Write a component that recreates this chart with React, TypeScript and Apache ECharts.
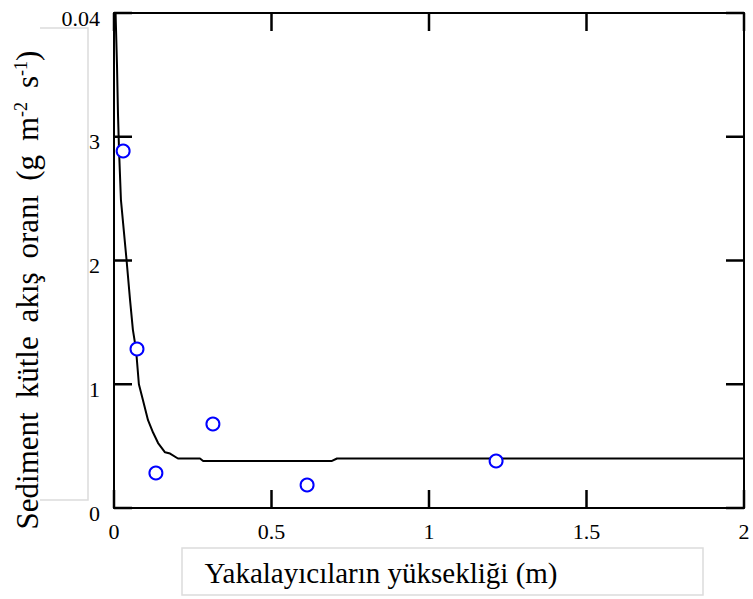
import React, { useEffect, useRef } from "react";
import * as echarts from "echarts";

const measuredX = [0.029, 0.073, 0.133, 0.314, 0.613, 1.213];
const measuredY = [2.885, 1.285, 0.283, 0.679, 0.186, 0.38];

const curveX = [0.005, 0.0095, 0.0127, 0.016, 0.022, 0.04, 0.051, 0.06, 0.07, 0.079, 0.092, 0.108, 0.124, 0.14, 0.162, 0.178, 0.203, 0.273, 0.283, 0.692, 0.708, 2.0];
const curveY = [4.0, 3.58, 3.18, 2.89, 2.49, 2.0, 1.68, 1.44, 1.28, 1.0, 0.87, 0.71, 0.61, 0.525, 0.45, 0.44, 0.4, 0.4, 0.38, 0.38, 0.4, 0.4];

const xTickValues = [0, 0.5, 1, 1.5, 2];
const yTickValues = [0, 1, 2, 3, 4];
const xTicks = ["0", "0.5", "1", "1.5", "2"];
const yTicks = ["0", "1", "2", "3", "0.04"];

const xTitle = "Yakalayıcıların yüksekliği (m)";
const SP = " \u2009";
const yTitle = `Sediment${SP}kütle${SP}akış${SP}oranı${SP}(g${SP}m{sup|-2}${SP}s{sup|-1})`;
const FONT = "'Liberation Serif', 'Times New Roman', serif";
const TICK = 18;

const mkLine = () => ({ show: true, onZero: false, lineStyle: { color: "#000", width: 2 } });

export default function App() {
  const ref = useRef<HTMLDivElement>(null);
  useEffect(() => {
    if (!ref.current) return;
    const chart = echarts.init(ref.current, undefined, { renderer: "svg" });
    const tickStyle = { stroke: "#000", lineWidth: 2.5 };
    chart.setOption({
      animation: false,
      backgroundColor: "#fff",
      grid: { left: 114, top: 13, width: 630, height: 495, containLabel: false },
      xAxis: [
        {
          type: "value", min: 0, max: 2, interval: 0.5, position: "bottom",
          axisLine: mkLine(), axisTick: { show: false }, splitLine: { show: false },
          axisLabel: {
            margin: 12, fontSize: 22, fontFamily: FONT, color: "#000",
            formatter: (v: number) => xTicks[Math.round(v / 0.5)] ?? "",
          },
        },
        {
          type: "value", min: 0, max: 2, interval: 0.5, position: "top",
          axisLine: mkLine(), axisTick: { show: false }, splitLine: { show: false }, axisLabel: { show: false },
        },
      ],
      yAxis: [
        {
          type: "value", min: 0, max: 4, interval: 1, position: "left",
          axisLine: mkLine(), axisTick: { show: false }, splitLine: { show: false },
          axisLabel: {
            margin: 14, color: "#000",
            formatter: (v: number) => `{a|${yTicks[Math.round(v)] ?? ""}}`,
            rich: { a: { fontSize: 22, fontFamily: FONT, color: "#000", padding: [10, 0, 0, 0] } },
          },
        },
        {
          type: "value", min: 0, max: 4, interval: 1, position: "right",
          axisLine: mkLine(), axisTick: { show: false }, splitLine: { show: false }, axisLabel: { show: false },
        },
      ],
      series: [
        {
          type: "line",
          data: curveX.map((x, i) => [x, curveY[i]]),
          showSymbol: false,
          symbol: "none",
          lineStyle: { color: "#000", width: 2 },
          z: 2,
        },
        {
          type: "scatter",
          data: measuredX.map((x, i) => [x, measuredY[i]]),
          symbol: "emptyCircle",
          symbolSize: 13,
          itemStyle: { color: "#0000ff", borderColor: "#0000ff", borderWidth: 2, opacity: 1 },
          z: 3,
        },
        {
          type: "custom",
          silent: true,
          z: 4,
          clip: false,
          data: xTickValues.map((v) => [v, 0]),
          renderItem: (_params: any, api: any) => {
            const v = api.value(0);
            const b = api.coord([v, 0]);
            const t = api.coord([v, 4]);
            return {
              type: "group",
              children: [
                { type: "line", shape: { x1: b[0], y1: b[1], x2: b[0], y2: b[1] - TICK }, style: tickStyle },
                { type: "line", shape: { x1: t[0], y1: t[1], x2: t[0], y2: t[1] + TICK }, style: tickStyle },
              ],
            };
          },
        },
        {
          type: "custom",
          silent: true,
          z: 4,
          clip: false,
          data: yTickValues.map((v) => [0, v]),
          renderItem: (_params: any, api: any) => {
            const v = api.value(1);
            const l = api.coord([0, v]);
            const r = api.coord([2, v]);
            return {
              type: "group",
              children: [
                { type: "line", shape: { x1: l[0], y1: l[1], x2: l[0] + TICK, y2: l[1] }, style: tickStyle },
                { type: "line", shape: { x1: r[0], y1: r[1], x2: r[0] - TICK, y2: r[1] }, style: tickStyle },
              ],
            };
          },
        },
      ],
      graphic: [
        {
          type: "polyline",
          shape: { points: [[40, 28], [88, 28], [88, 500], [40, 500]] },
          style: { stroke: "#dcdcdc", lineWidth: 1.5, fill: "none" },
          silent: true,
        },
        {
          type: "rect",
          shape: { x: 182, y: 548, width: 521, height: 47 },
          style: { stroke: "#dcdcdc", lineWidth: 1.5, fill: "none" },
          silent: true,
        },
        {
          type: "text",
          x: 27, y: 290, rotation: Math.PI / 2,
          style: {
            text: yTitle,
            fontSize: 31, fontFamily: FONT,
            fill: "#000", align: "center", verticalAlign: "middle",
            rich: {
              sup: { fontSize: 18, fontFamily: FONT, verticalAlign: "top", fill: "#000" },
            },
          },
        },
        {
          type: "text",
          x: 381, y: 573,
          style: {
            text: xTitle, fontSize: 29, fontFamily: FONT, fill: "#000",
            align: "center", verticalAlign: "middle",
          },
        },
      ],
    });
    return () => chart.dispose();
  }, []);
  return <div ref={ref} style={{ position: "fixed", left: 0, top: 0, width: 753, height: 599 }} />;
}
